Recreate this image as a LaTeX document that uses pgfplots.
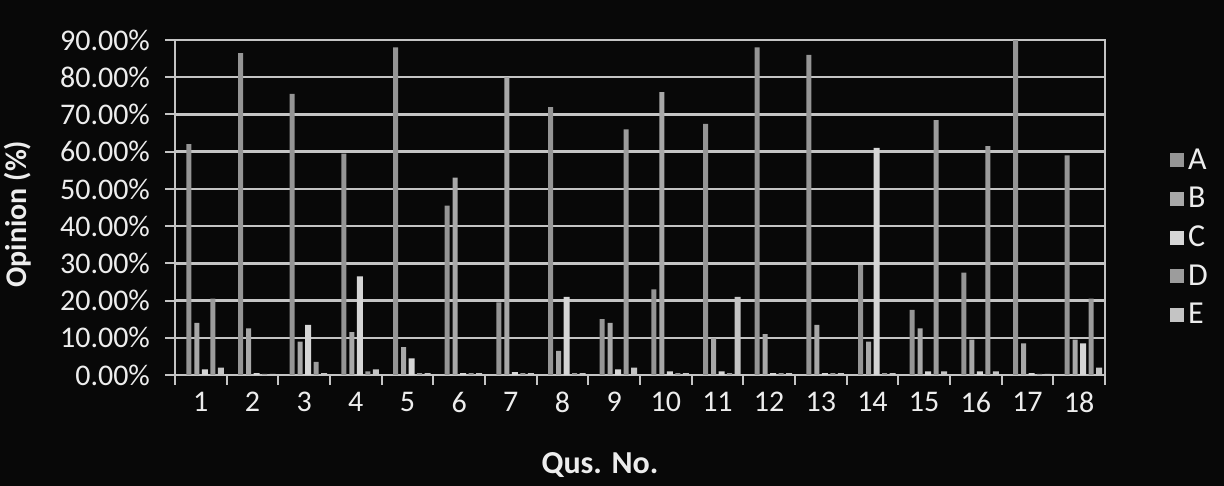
\documentclass[border=0pt]{standalone}
\usepackage{fontspec}
\setmainfont{Carlito}
\usepackage{pgfplots}
\usepackage{pgfplotstable}
\pgfplotsset{compat=1.18}
\definecolor{bg}{HTML}{080808}
\definecolor{gridc}{HTML}{C4C4C4}
\definecolor{txt}{HTML}{EDEDED}
\definecolor{ca}{HTML}{959595}
\definecolor{cb}{HTML}{A8A8A8}
\definecolor{cc}{HTML}{D6D6D6}
\definecolor{cd}{HTML}{9C9C9C}
\definecolor{ce}{HTML}{C4C4C4}

\pgfplotstableread{
q  A    B    C    D    E
1  62   14   1.5  20.5 2
2  86.5 12.5 0.5  0.3  0.3
3  75.5 9    13.5 3.5  0.5
4  59.5 11.5 26.5 1    1.5
5  88   7.5  4.5  0.5  0.5
6  45.5 53   0.5  0.5  0.5
7  19.5 80   0.8  0.5  0.5
8  72   6.5  21   0.5  0.5
9  15   14   1.5  66   2
10 23   76   1    0.5  0.5
11 67.5 10   1    0.5  21
12 88   11   0.5  0.5  0.5
13 86   13.5 0.5  0.5  0.5
14 29.5 9    61   0.5  0.5
15 17.5 12.5 1    68.5 1
16 27.5 9.5  1    61.5 1
17 91   8.5  0.5  0.3  0.3
18 59   9.5  8.5  20.5 2
}\datatable

\begin{document}
\begin{tikzpicture}
\useasboundingbox (0,0) rectangle (612pt,243pt);
\fill[bg] (0,0) rectangle (612pt,243pt);
\begin{axis}[
  at={(87.5pt,55.5pt)}, anchor=south west,
  scale only axis, width=465pt, height=167.5pt,
  xmin=0.5, xmax=18.5, ymin=0, ymax=90,
  ybar, bar width=2.5pt,
  axis line style={gridc, line width=1pt},
  ytick={0,10,20,30,40,50,60,70,80,90},
  yticklabels={0.00\%,10.00\%,20.00\%,30.00\%,40.00\%,50.00\%,60.00\%,70.00\%,80.00\%,90.00\%},
  xtick={0.5,1.5,2.5,3.5,4.5,5.5,6.5,7.5,8.5,9.5,10.5,11.5,12.5,13.5,14.5,15.5,16.5,17.5,18.5},
  xticklabels={1,2,3,4,5,6,7,8,9,10,11,12,13,14,15,16,17,18,{}},
  xticklabel style={xshift=12.9pt},
  yticklabel style={xshift=-4pt},
  tick label style={font=\fontsize{15}{18}\selectfont, text=txt},
  tick align=outside, major tick length=5pt,
  tick style={gridc, line width=1pt},
  xtick pos=bottom, ytick pos=left,
  ymajorgrids, grid style={gridc, line width=1.2pt},
  xlabel={Qus. No.},
  xlabel style={at={(axis description cs:0.457,-0.27)}, anchor=center, font=\fontsize{16}{19}\selectfont\bfseries, text=txt},
  ylabel={Opinion (\%)},
  ylabel style={at={(axis description cs:-0.169,0.48)}, anchor=center, font=\fontsize{15}{18}\selectfont\bfseries, text=txt},
  legend style={at={(1.063,0.41)}, anchor=west, draw=none, fill=none, text=txt,
    font=\fontsize{16}{19}\selectfont, row sep=3.5pt},
  legend cell align=left,
  legend image code/.code={\fill[#1] (0pt,-3.5pt) rectangle (7pt,3.5pt);},
]
\addplot[fill=ca, draw=none, bar shift=-6pt] table[x=q,y=A]{\datatable};
\addplot[fill=cb, draw=none, bar shift=-2pt] table[x=q,y=B]{\datatable};
\addplot[fill=cc, draw=none, bar shift=2pt, bar width=3pt] table[x=q,y=C]{\datatable};
\addplot[fill=cd, draw=none, bar shift=6pt] table[x=q,y=D]{\datatable};
\addplot[fill=ce, draw=none, bar shift=10pt, bar width=3pt] table[x=q,y=E]{\datatable};
\legend{A,B,C,D,E}
\end{axis}
\end{tikzpicture}
\end{document}
